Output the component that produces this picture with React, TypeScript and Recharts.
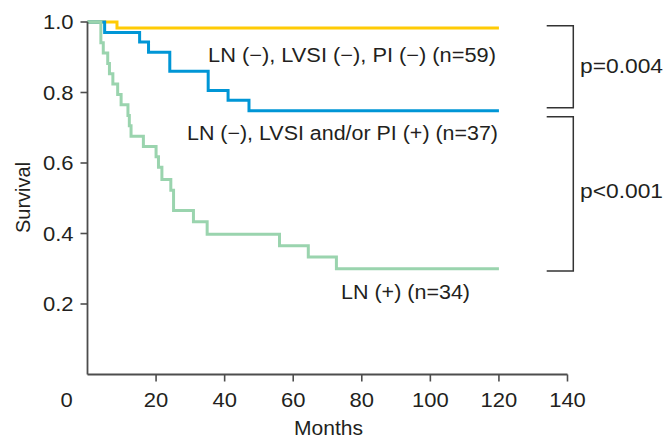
import React from 'react';
import { LineChart, Line, XAxis, YAxis } from 'recharts';

// Kaplan-Meier curves, survival (months)
const yellowT = [0, 8.6, 120];
const yellowS = [1, 0.983, 0.983];

const blueT = [0, 5.0, 15.2, 17.8, 24.0, 35.2, 41.0, 47.1, 120];
const blueS = [1, 0.97, 0.943, 0.914, 0.86, 0.806, 0.778, 0.748, 0.748];

const greenT = [0, 3.9, 4.6, 5.9, 6.4, 7.4, 8.8, 9.8, 11.8, 12.2, 12.7, 16.3, 20.0, 20.7, 21.7, 24.3, 25.1, 30.9, 34.9, 56.0, 64.4, 72.6, 120];
const greenS = [1, 0.941, 0.912, 0.882, 0.853, 0.824, 0.794, 0.765, 0.735, 0.706, 0.676, 0.647, 0.618, 0.588, 0.553, 0.523, 0.465, 0.433, 0.398, 0.365, 0.333, 0.3, 0.3];

const xTicks = [0, 20, 40, 60, 80, 100, 120, 140];
const yTicks = [0.2, 0.4, 0.6, 0.8, 1.0];

const toPoints = (t: number[], s: number[]) => t.map((v, i) => ({ t: v, s: s[i] }));

const FONT = "'Liberation Sans', Arial, Helvetica, sans-serif";
const INK = '#231f20';
const AXIS = '#4d4d4d';

const XTick = (props: any) => {
  const { x, y, payload } = props;
  const v = payload.value;
  const zero = v === 0;
  return (
    <g>
      {!zero && <line x1={x} x2={x} y1={y} y2={y + 7} stroke={AXIS} strokeWidth={1.6} />}
      <text
        transform={`translate(${zero ? x - 21 : x} ${y + 32}) scale(1.1 1)`}
        textAnchor="middle"
        fontSize={20}
        fontFamily={FONT}
        fill={INK}
      >
        {v}
      </text>
    </g>
  );
};

const YTick = (props: any) => {
  const { x, y, payload } = props;
  return (
    <g>
      <line x1={x - 7} x2={x} y1={y} y2={y} stroke={AXIS} strokeWidth={1.6} />
      <text
        transform={`translate(${x - 14} ${y + 7}) scale(1.1 1)`}
        textAnchor="end"
        fontSize={20}
        fontFamily={FONT}
        fill={INK}
      >
        {payload.value.toFixed(1)}
      </text>
    </g>
  );
};

const Note = ({ x, y, w, children }: { x: number; y: number; w: number; children: React.ReactNode }) => (
  <text x={x} y={y} textLength={w} lengthAdjust="spacingAndGlyphs" fontSize={20} fontFamily={FONT} fill={INK}>
    {children}
  </text>
);

export default function App() {
  return (
    <div style={{ position: 'absolute', left: 0, top: 0, width: 666, height: 439, background: '#fff', fontFamily: FONT }}>
      <LineChart width={666} height={439} margin={{ top: 22, right: 98.5, bottom: 24.5, left: 0 }}>
        <XAxis
          dataKey="t"
          type="number"
          domain={[0, 140]}
          ticks={xTicks}
          interval={0}
          height={40}
          tickSize={0}
          tickMargin={0}
          tickLine={false}
          axisLine={{ stroke: AXIS, strokeWidth: 1.8 }}
          tick={<XTick />}
        />
        <YAxis
          dataKey="s"
          type="number"
          domain={[0, 1]}
          ticks={yTicks}
          interval={0}
          width={87.5}
          tickSize={0}
          tickMargin={0}
          tickLine={false}
          axisLine={{ stroke: AXIS, strokeWidth: 1.8 }}
          tick={<YTick />}
        />
        <Line data={toPoints(yellowT, yellowS)} dataKey="s" type="stepAfter" stroke="#ffcb05" strokeWidth={3} dot={false} isAnimationActive={false} />
        <Line data={toPoints(blueT, blueS)} dataKey="s" type="stepAfter" stroke="#0096d6" strokeWidth={3} dot={false} isAnimationActive={false} />
        <Line data={toPoints(greenT, greenS)} dataKey="s" type="stepAfter" stroke="#9ad4ae" strokeWidth={3} dot={false} isAnimationActive={false} />
      </LineChart>
      <svg width={666} height={439} style={{ position: 'absolute', left: 0, top: 0, pointerEvents: 'none' }}>
        <Note x={208} y={62.3} w={288}>LN (−), LVSI (−), PI (−) (n=59)</Note>
        <Note x={187} y={139.5} w={311}>LN (−), LVSI and/or PI (+) (n=37)</Note>
        <Note x={341} y={299} w={129}>LN (+) (n=34)</Note>
        <Note x={580} y={73.3} w={83}>p=0.004</Note>
        <Note x={580} y={198.3} w={83}>p&lt;0.001</Note>
        <Note x={294} y={435} w={69}>Months</Note>
        <text
          transform="translate(30 197.5) rotate(-90)"
          textAnchor="middle"
          fontSize={20}
          fontFamily={FONT}
          fill={INK}
        >
          Survival
        </text>
        <path d="M546.7 25.7 H573.3 V107.7 H546.7" fill="none" stroke="#333" strokeWidth={1.5} />
        <path d="M546.7 116.7 H573.3 V271 H546.7" fill="none" stroke="#333" strokeWidth={1.5} />
      </svg>
    </div>
  );
}
